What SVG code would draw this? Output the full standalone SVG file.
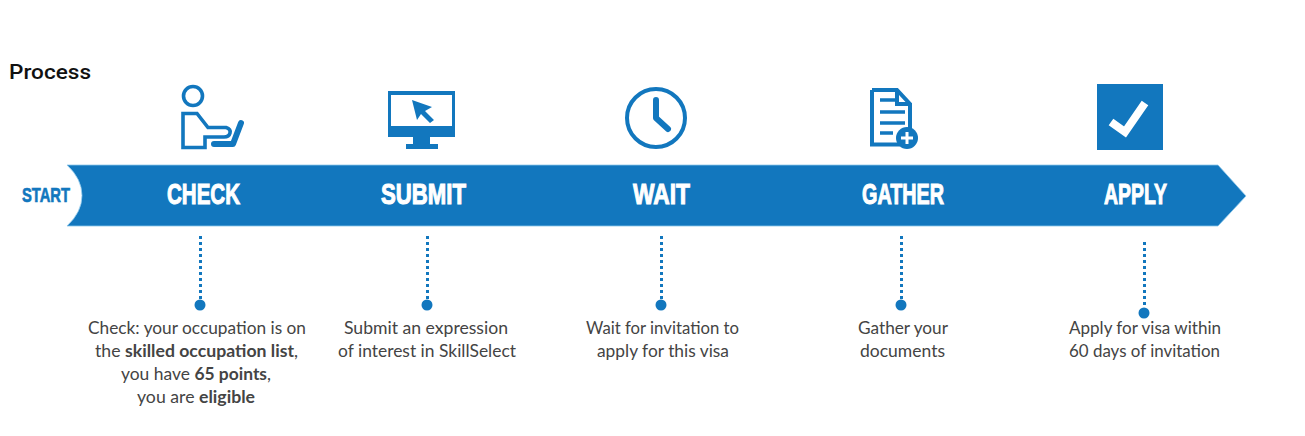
<svg xmlns="http://www.w3.org/2000/svg" width="1305" height="436" viewBox="0 0 1305 436">
<style>
.b{fill:#1277be}
.l{fill:none;stroke:#1277be;stroke-width:3.6}
.t{font-family:"Liberation Sans",Arial,sans-serif;font-weight:700;font-size:30px;fill:#fff;text-anchor:start;stroke:#fff;stroke-width:1.1}
.d{font-family:Lato,"Open Sans",sans-serif;font-size:16.500px;fill:#444;text-anchor:start}
.d tspan{font-weight:700}
.c{fill:none;stroke:#1277be;stroke-width:3;stroke-dasharray:3 3}
</style>
<rect width="1305" height="436" fill="#fff"/>
<text x="9" y="79" font-family="Roboto,sans-serif" font-size="20.500" font-weight="500" fill="#111" textLength="82" lengthAdjust="spacingAndGlyphs">Process</text>
<g id="band">
<path class="b" d="M67,165H1218L1246,196L1218,226H67Q82,212 82,195.500Q82,179 67,165Z" stroke="#8cc6ea" stroke-width=".8"/>
<text class="t" x="22" y="202" style="font-size:21px;fill:#1277be;stroke:#1277be;stroke-width:.7" textLength="48" lengthAdjust="spacingAndGlyphs">START</text>
</g>
<g id="connectors">
<path class="c" d="M200.500,236V300M427.500,236V300M661.500,236V300M901.500,236V300M1144.500,242V308"/>
<circle class="b" cx="200" cy="305" r="5.500"/>
<circle class="b" cx="427" cy="305" r="5.500"/>
<circle class="b" cx="661" cy="305" r="5.500"/>
<circle class="b" cx="901" cy="305" r="5.500"/>
<circle class="b" cx="1144" cy="313" r="5.500"/>
</g>
<g id="check">
<circle class="l" cx="193" cy="96" r="9.500"/>
<path class="l" d="M183,113.500H197L208,127.500H226Q231,129 230,133Q229,137 224,137H205V147.500H183Z"/>
<path fill="none" stroke="#1277be" stroke-width="6" stroke-linecap="round" stroke-linejoin="round" d="M241,123L233,144H214"/>
<text class="t" x="167" y="204" textLength="73" lengthAdjust="spacingAndGlyphs">CHECK</text>
<text class="d" x="88" y="334" textLength="218" lengthAdjust="spacingAndGlyphs">Check: your occupation is on</text>
<text class="d" x="95" y="357" textLength="203" lengthAdjust="spacingAndGlyphs">the <tspan>skilled occupation list</tspan>,</text>
<text class="d" x="121" y="380" textLength="150" lengthAdjust="spacingAndGlyphs">you have <tspan>65 points</tspan>,</text>
<text class="d" x="137" y="403" textLength="118" lengthAdjust="spacingAndGlyphs">you are <tspan>eligible</tspan></text>
</g>
<g id="submit">
<path class="b" fill-rule="evenodd" d="M388,91H455V137H430V144H438V149H406V144H413V137H388ZM391,95V126H452V95Z"/>
<path class="b" d="M412,100L432,107L425,111L434,120L430,123L421,114L417,120Z"/>
<text class="t" x="381" y="204" textLength="85" lengthAdjust="spacingAndGlyphs">SUBMIT</text>
<text class="d" x="344" y="334" textLength="164" lengthAdjust="spacingAndGlyphs">Submit an expression</text>
<text class="d" x="338" y="357" textLength="178" lengthAdjust="spacingAndGlyphs">of interest in SkillSelect</text>
</g>
<g id="wait">
<circle cx="656" cy="118" r="29" fill="none" stroke="#1277be" stroke-width="4"/>
<path fill="none" stroke="#1277be" stroke-width="6" stroke-linecap="round" stroke-linejoin="round" d="M656,100V118L668,129"/>
<text class="t" x="633" y="204" textLength="57" lengthAdjust="spacingAndGlyphs">WAIT</text>
<text class="d" x="586" y="334" textLength="153" lengthAdjust="spacingAndGlyphs">Wait for invitation to</text>
<text class="d" x="597" y="357" textLength="132" lengthAdjust="spacingAndGlyphs">apply for this visa</text>
</g>
<g id="gather">
<path class="l" style="stroke-width:4" d="M872,90H897L910,104V130M897,90V104H910M900,144.500H872V90"/>
<path fill="none" stroke="#1277be" stroke-width="3.500" d="M880,100H895M880,112H905M880,123H905M880,133H893"/>
<circle class="b" cx="907" cy="138" r="11"/>
<path fill="none" stroke="#fff" stroke-width="3" d="M901,138H913M907,132V144"/>
<text class="t" x="862" y="204" textLength="82" lengthAdjust="spacingAndGlyphs">GATHER</text>
<text class="d" x="858" y="334" textLength="90" lengthAdjust="spacingAndGlyphs">Gather your</text>
<text class="d" x="860" y="357" textLength="85" lengthAdjust="spacingAndGlyphs">documents</text>
</g>
<g id="apply">
<rect class="b" x="1097" y="84" width="66" height="66"/>
<path fill="none" stroke="#fff" stroke-width="8" d="M1111,122L1125,132L1145,103"/>
<text class="t" x="1104" y="204" textLength="63" lengthAdjust="spacingAndGlyphs">APPLY</text>
<text class="d" x="1069" y="334" textLength="152" lengthAdjust="spacingAndGlyphs">Apply for visa within</text>
<text class="d" x="1069" y="357" textLength="151" lengthAdjust="spacingAndGlyphs">60 days of invitation</text>
</g>
</svg>
